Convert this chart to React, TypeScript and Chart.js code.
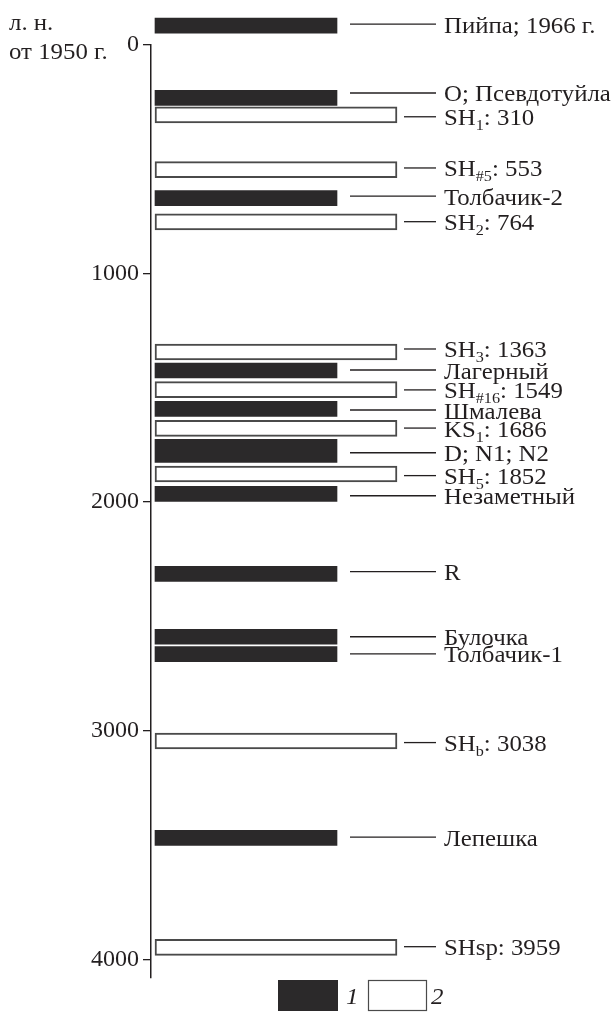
import React, { useEffect, useRef } from 'react';
import { Chart, registerables } from 'chart.js';

Chart.register(...registerables);

// ---- data ----
const LAYER_NAMES = ['Пийпа; 1966 г.', 'O; Псевдотуйла', 'SH', 'SH', 'Толбачик-2', 'SH', 'SH', 'Лагерный', 'SH', 'Шмалева', 'KS', 'D; N1; N2', 'SH', 'Незаметный', 'R', 'Булочка', 'Толбачик-1', 'SH', 'Лепешка', 'SHsp'];
const LAYER_SUBS = ['', '', '1', '#5', '', '2', '3', '', '#16', '', '1', '', '5', '', '', '', '', 'b', '', ''];
const LAYER_TAILS = ['', '', ': 310', ': 553', '', ': 764', ': 1363', '', ': 1549', '', ': 1686', '', ': 1852', '', '', '', '', ': 3038', '', ': 3959'];
// 1 = black bar, 2 = white bar
const LAYER_TYPES = [1, 1, 2, 2, 1, 2, 2, 1, 2, 1, 2, 1, 2, 1, 1, 1, 1, 2, 1, 2];
// position of each bar on the age axis (years BP)
const LAYER_AGES = [-85, 231, 306, 545, 670, 774, 1343, 1424, 1508, 1592, 1677, 1776, 1877, 1964, 2314, 2589, 2665, 3045, 3469, 3948];
// position of each label / leader line on the age axis
const LABEL_AGES = [-91, 210, 314, 538, 661, 773, 1330, 1422, 1509, 1597, 1676, 1784, 1884, 1972, 2304, 2589, 2664, 3052, 3466, 3945];
const THICK_LAYERS = ['D; N1; N2'];
const Y_TICKS = [0, 1000, 2000, 3000, 4000];
const AXIS_TITLE = ['л. н.', 'от 1950 г.'];
const LEGEND_LABELS = ['1', '2'];

// ---- style constants ----
const SERIF = '"Liberation Serif", "Times New Roman", serif';
const INK = '#231f20';
const BLACK = '#2b292a';
const EDGE = '#4a4a4a';
const BAR_START = 1;
const BLACK_END = 46.5;
const WHITE_END = 61.5;
const LEADER_END = 71.25;
const LABEL_X = 73.25;
const FONT = 23;
const SUB_FONT = 15;
const STRETCH = 1.08;

const barPoints = (type: number, thick: boolean) =>
  LAYER_AGES.map((age, i) => ({ age, i }))
    .filter(({ i }) => LAYER_TYPES[i] === type && THICK_LAYERS.includes(LAYER_NAMES[i]) === thick)
    .map(({ age, i }) => ({ y: age, x: [BAR_START, LAYER_TYPES[i] === 1 ? BLACK_END : WHITE_END] }));

function drawText(ctx: CanvasRenderingContext2D, text: string, x: number, y: number) {
  ctx.save();
  ctx.translate(x, y);
  ctx.scale(STRETCH, 1);
  ctx.fillText(text, 0, 0);
  ctx.restore();
  return ctx.measureText(text).width * STRETCH;
}

const labelsPlugin = {
  id: 'layerLabels',
  afterDatasetsDraw(chart: any) {
    const { ctx } = chart;
    const xs = chart.scales.x;
    const ys = chart.scales.y;
    ctx.save();
    ctx.strokeStyle = INK;
    ctx.fillStyle = INK;
    ctx.lineWidth = 1.3;
    ctx.textAlign = 'left';
    ctx.textBaseline = 'alphabetic';
    LAYER_NAMES.forEach((name, i) => {
      const ly = ys.getPixelForValue(LABEL_AGES[i]);
      const black = LAYER_TYPES[i] === 1;
      const x0 = xs.getPixelForValue(black ? BLACK_END : WHITE_END) + (black ? 13 : 7);
      const x1 = xs.getPixelForValue(LEADER_END);
      ctx.beginPath();
      ctx.moveTo(x0, ly);
      ctx.lineTo(x1, ly);
      ctx.stroke();
      let tx = xs.getPixelForValue(LABEL_X);
      const base = ly + 8.5;
      ctx.font = `${FONT}px ${SERIF}`;
      tx += drawText(ctx, name, tx, base);
      if (LAYER_SUBS[i]) {
        ctx.font = `${SUB_FONT}px ${SERIF}`;
        tx += drawText(ctx, LAYER_SUBS[i], tx, base + 5);
        ctx.font = `${FONT}px ${SERIF}`;
      }
      if (LAYER_TAILS[i]) drawText(ctx, LAYER_TAILS[i], tx, base);
    });
    ctx.restore();
  },
  afterDraw(chart: any) {
    const { ctx } = chart;
    ctx.save();
    ctx.fillStyle = INK;
    ctx.textAlign = 'left';
    ctx.textBaseline = 'alphabetic';
    ctx.font = `${FONT}px ${SERIF}`;
    drawText(ctx, AXIS_TITLE[0], 9, 30);
    drawText(ctx, AXIS_TITLE[1], 9, 59);
    // legend
    ctx.fillStyle = BLACK;
    ctx.fillRect(278, 980, 60, 31);
    ctx.fillStyle = '#fff';
    ctx.strokeStyle = EDGE;
    ctx.lineWidth = 1.2;
    ctx.fillRect(368, 980, 59, 31);
    ctx.strokeRect(368.5, 980.5, 58, 30);
    ctx.fillStyle = INK;
    ctx.font = `italic ${FONT}px ${SERIF}`;
    drawText(ctx, LEGEND_LABELS[0], 346, 1004);
    drawText(ctx, LEGEND_LABELS[1], 431, 1004);
    ctx.restore();
  },
};

export default function App() {
  const ref = useRef<HTMLCanvasElement | null>(null);
  useEffect(() => {
    if (!ref.current) return;
    const chart = new Chart(ref.current, {
      type: 'bar',
      data: {
        datasets: [
          {
            label: LEGEND_LABELS[0],
            data: barPoints(1, false) as any,
            backgroundColor: BLACK,
            borderWidth: 0,
            barThickness: 15,
            stack: 'all',
            clip: false as any,
          },
          {
            label: LEGEND_LABELS[1],
            data: barPoints(2, false) as any,
            backgroundColor: '#ffffff',
            borderColor: EDGE,
            borderWidth: 2,
            borderSkipped: false,
            barThickness: 16,
            stack: 'all',
            clip: false as any,
          },
          {
            label: LEGEND_LABELS[0] + ' ',
            data: barPoints(1, true) as any,
            backgroundColor: BLACK,
            borderWidth: 0,
            barThickness: 23,
            stack: 'all',
            clip: false as any,
          },
        ],
      },
      options: {
        indexAxis: 'y',
        responsive: false,
        animation: false,
        events: [],
        layout: { padding: { top: 45, bottom: 34, left: 91, right: 63 } },
        plugins: { legend: { display: false }, tooltip: { enabled: false } },
        scales: {
          x: { type: 'linear', display: false, min: 0, max: 100, stacked: false },
          y: {
            type: 'linear',
            position: 'left',
            reverse: true,
            min: 0,
            max: 4082,
            offset: false,
            afterBuildTicks: (s: any) => {
              s.ticks = Y_TICKS.map((v) => ({ value: v }));
            },
            afterFit: (s: any) => {
              s.width = 60;
            },
            ticks: {
              font: { family: SERIF, size: 24 },
              color: INK,
              padding: 4,
              callback: (v: any) => String(v),
            },
            grid: {
              display: true,
              drawOnChartArea: false,
              drawTicks: true,
              tickLength: 8,
              color: INK,
              lineWidth: 1.3,
              offset: false,
            },
            border: { display: true, color: INK, width: 1.5 },
          },
        },
      } as any,
      plugins: [labelsPlugin],
    });
    return () => chart.destroy();
  }, []);
  return (
    <div style={{ position: 'absolute', left: 0, top: 0 }}>
      <canvas ref={ref} width={614} height={1012} style={{ display: 'block' }} />
    </div>
  );
}
